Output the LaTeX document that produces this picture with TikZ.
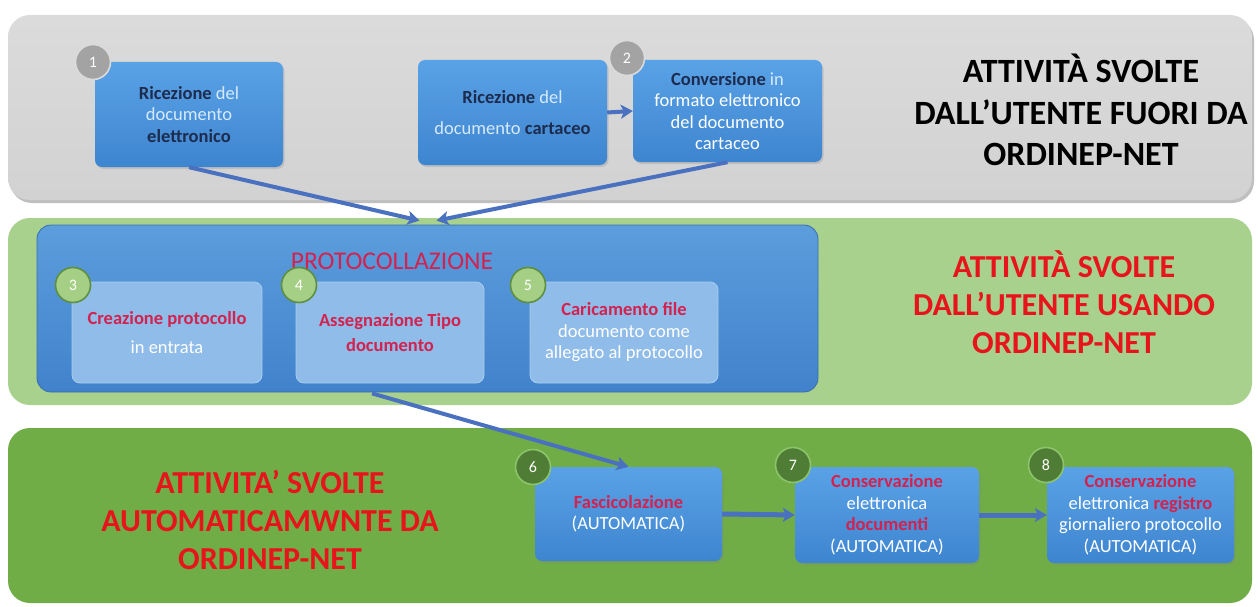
\documentclass[tikz,border=0pt]{standalone}
\usepackage{fontspec}
\setmainfont{Carlito}
\usetikzlibrary{arrows.meta,shadows,calc}
\definecolor{bandgray}{HTML}{D2D2D2}
\definecolor{bandlgreen}{HTML}{A9D18E}
\definecolor{banddgreen}{HTML}{70AD47}
\definecolor{boxtop}{HTML}{5AA2E6}
\definecolor{boxbot}{HTML}{3E85D0}
\definecolor{prototop}{HTML}{5C9DDC}
\definecolor{protobot}{HTML}{4282CC}
\definecolor{innerblue}{HTML}{8FBCE8}
\definecolor{innerborder}{HTML}{A9CDF0}
\definecolor{arrowblue}{HTML}{4A70C0}
\definecolor{navytxt}{HTML}{1D2C4E}
\definecolor{lighttxt}{HTML}{D6EAFB}
\definecolor{crim}{HTML}{D3224F}
\definecolor{titlered}{HTML}{E8141B}
\definecolor{circgray}{HTML}{A3A3A3}
\definecolor{circgrayb}{HTML}{DADADA}
\definecolor{circlg}{HTML}{A6CF86}
\definecolor{circlgb}{HTML}{5E8F3E}
\definecolor{circdg}{HTML}{4F7D36}
\definecolor{circdgb}{HTML}{8CC46A}
\begin{document}
\begin{tikzpicture}[x=1pt,y=-1pt,
  band/.style={rounded corners=22pt, draw=none},
  bluebox/.style={rounded corners=7pt, top color=boxtop, bottom color=boxbot, draw=none,
    align=center, inner sep=0pt, text=white, font=\fontsize{18.5}{21.5}\selectfont,
    drop shadow={opacity=0.25, shadow xshift=1.5pt, shadow yshift=-2pt}},
  innerbox/.style={rounded corners=8pt, fill=innerblue, draw=innerborder, line width=0.8pt,
    align=center, inner sep=0pt, text=white, font=\fontsize{18.5}{21.5}\selectfont},
  numcirc/.style={circle, minimum size=35pt, inner sep=0pt, line width=1.6pt, text=white,
    font=\fontsize{16}{16}\selectfont},
  numgray/.style={numcirc, fill=circgray, draw=circgrayb},
  numlg/.style={numcirc, fill=circlg, draw=circlgb},
  numdg/.style={numcirc, fill=circdg, draw=circdgb},
  bigtitle/.style={align=center, font=\bfseries\fontsize{32}{38}\selectfont},
  arr/.style={draw=arrowblue, line width=4pt, -{Stealth[length=12pt,width=14pt,inset=3pt]}}
]
\useasboundingbox (0,0) rectangle (1258,607);
\fill[white] (0,0) rectangle (1258,607);

% bands
\fill[black!25, rounded corners=22pt] (10,18) rectangle (1254,203);
\path[band, top color=bandgray!80!white, bottom color=bandgray] (8,15) rectangle (1252,200);
\path[band, fill=bandlgreen] (8,218) rectangle (1252,405);
\path[band, fill=banddgreen] (8,428) rectangle (1252,603);

% top row
\node[bluebox, minimum width=188pt, minimum height=105pt] (n1) at (189,114.5)
  {{\color{navytxt}\bfseries Ricezione} {\color{lighttxt}del}\\{\color{lighttxt}documento}\\{\color{navytxt}\bfseries elettronico}};
\node[bluebox, minimum width=189pt, minimum height=105pt] (c1) at (512.5,112.5)
  {{\color{navytxt}\bfseries Ricezione} {\color{lighttxt}del}\\[9pt]{\color{lighttxt}documento} {\color{navytxt}\bfseries cartaceo}};
\node[bluebox, minimum width=189pt, minimum height=102pt] (n2) at (727.5,111)
  {{\color{navytxt}\bfseries Conversione} {\color{lighttxt}in}\\formato elettronico\\del documento\\cartaceo};
\node[numgray] (k1) at (93,62) {1};
\node[numgray] (k2) at (627,58) {2};

\node[bigtitle, text=black, font=\bfseries\fontsize{34}{41.5}\selectfont] (t1) at (1081,110)
  {ATTIVITÀ SVOLTE\\DALL’UTENTE FUORI DA\\ORDINEP-NET};

% middle row
\node[rounded corners=14pt, top color=prototop, bottom color=protobot, draw=protobot!85!black,
  line width=0.8pt, minimum width=781pt, minimum height=167pt, inner sep=0pt] (proto) at (427.5,308.5) {};
\node[text=crim, font=\fontsize{25.5}{28}\selectfont, inner sep=0pt] (ptitle) at (392,261) {PROTOCOLLAZIONE};
\node[innerbox, minimum width=190pt, minimum height=101pt] (n3) at (167,332.5)
  {{\color{crim}\bfseries Creazione protocollo}\\[8pt]in entrata};
\node[innerbox, minimum width=188pt, minimum height=101pt] (n4) at (390,332.5)
  {{\color{crim}\bfseries Assegnazione Tipo}\\[4pt]{\color{crim}\bfseries documento}};
\node[innerbox, minimum width=188pt, minimum height=101pt] (n5) at (624,332.5)
  {{\color{crim}\bfseries Caricamento file}\\documento come\\allegato al protocollo};
\node[numlg] (k3) at (73,285) {3};
\node[numlg] (k4) at (299,285) {4};
\node[numlg] (k5) at (528,285) {5};

\node[bigtitle, text=titlered] (t2) at (1064,302)
  {ATTIVITÀ SVOLTE\\DALL’UTENTE USANDO\\ORDINEP-NET};

% bottom row
\node[bigtitle, text=titlered] (t3) at (270,520)
  {ATTIVITA’ SVOLTE\\AUTOMATICAMWNTE DA\\ORDINEP-NET};
\node[bluebox, minimum width=187pt, minimum height=94pt] (n6) at (628.5,514)
  {{\color{crim}\bfseries Fascicolazione}\\(AUTOMATICA)};
\node[bluebox, minimum width=184pt, minimum height=96pt] (n7) at (887,515)
  {{\color{crim}\bfseries Conservazione}\\elettronica\\{\color{crim}\bfseries documenti}\\(AUTOMATICA)};
\node[bluebox, minimum width=187pt, minimum height=96pt] (n8) at (1140.5,515)
  {{\color{crim}\bfseries Conservazione}\\elettronica {\color{crim}\bfseries registro}\\giornaliero protocollo\\(AUTOMATICA)};
\node[numdg] (k6) at (533,467) {6};
\node[numdg] (k7) at (793,465) {7};
\node[numdg] (k8) at (1046,465) {8};

% connectors
\coordinate (tipA) at ($(proto.north)+(-8,-4)$);
\coordinate (tipB) at ($(proto.north)+(9,-4)$);
\draw[arr] (n1.south) -- (tipA);
\draw[arr] (n2.south) -- (tipB);
\draw[arr] (c1.east) -- (n2.west);
\draw[arr] ([xshift=-18pt,yshift=-10pt]n4.south) -- (n6.north);
\draw[arr, line width=5pt] (n6.east) -- (n7.west);
\draw[arr, line width=5pt] (n7.east) -- (n8.west);
\end{tikzpicture}
\end{document}
